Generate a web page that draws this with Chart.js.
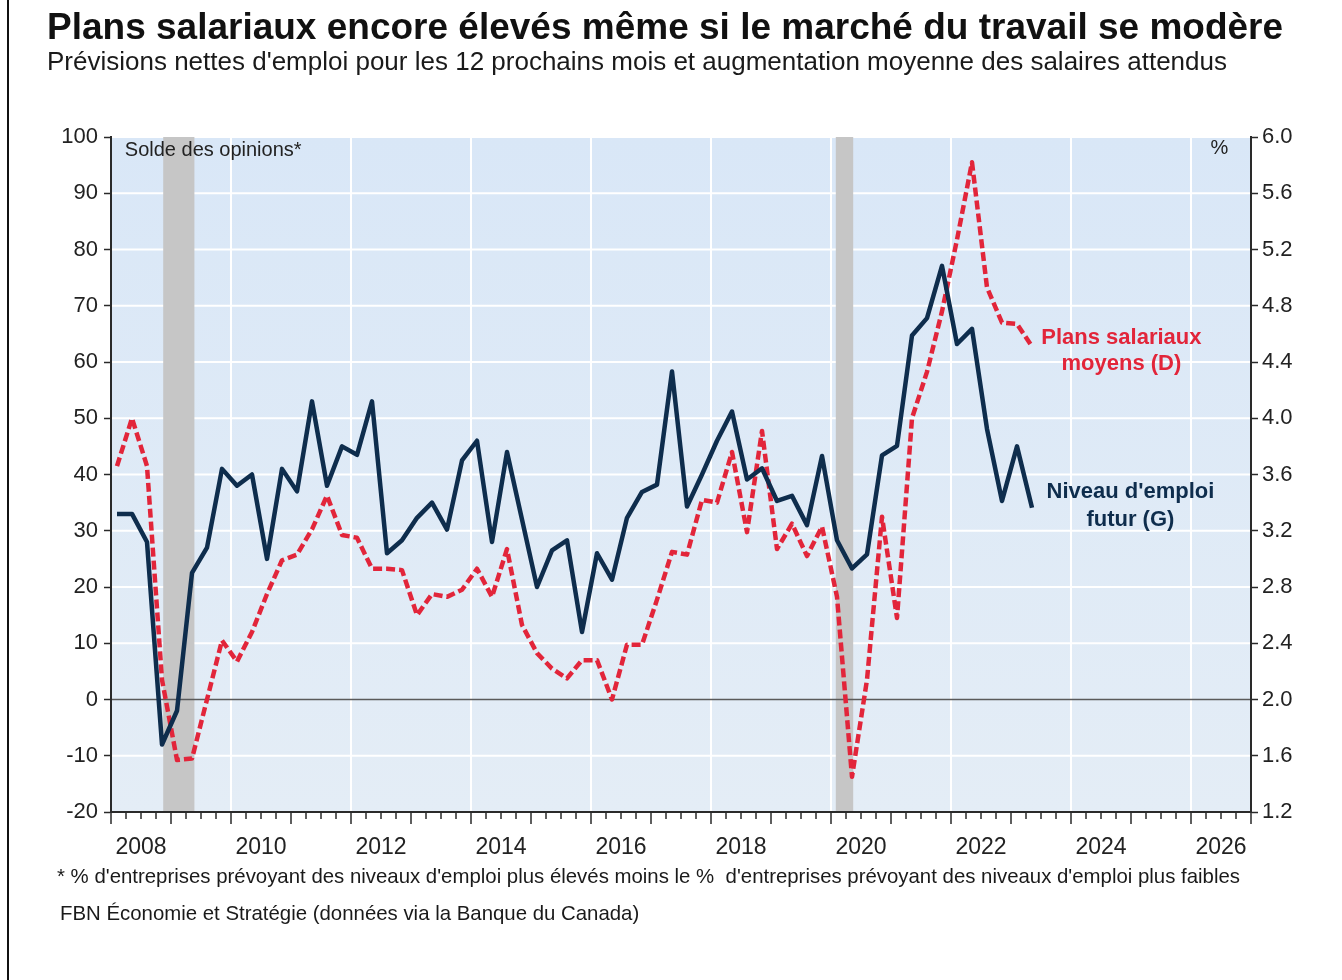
<!DOCTYPE html>
<html lang="fr">
<head>
  <meta charset="UTF-8">
  <title>Plans salariaux encore élevés</title>
  <script src="https://cdn.jsdelivr.net/npm/chart.js"></script>
  <style>
    body { margin: 0; background: #fff; font-family: "Liberation Sans", Arial, sans-serif; }
    #page { position: relative; width: 1342px; height: 980px; overflow: hidden; }
    #cadre { position: absolute; left: 7px; top: 0; width: 2px; height: 980px; background: #111; }
    .txt { position: absolute; white-space: nowrap; line-height: 1; color: #1a1a1a; }
    #titre { left: 47px; top: 8px; font-size: 37px; font-weight: bold; color: #111; }
    #sousTitre { left: 47px; top: 48px; font-size: 26px; }
    #note { left: 57px; top: 866px; font-size: 20.4px; }
    #source { left: 60px; top: 903px; font-size: 20.4px; }
    #zone { position: absolute; left: 0; top: 0; width: 1342px; height: 980px; }
  </style>
</head>
<body>
<div id="page">
  <div id="zone"><canvas id="graphique"></canvas></div>
  <div id="cadre"></div>
  <div class="txt" id="titre">Plans salariaux encore élevés même si le marché du travail se modère</div>
  <div class="txt" id="sousTitre">Prévisions nettes d'emploi pour les 12 prochains mois et augmentation moyenne des salaires attendus</div>
  <div class="txt" id="note">* % d'entreprises prévoyant des niveaux d'emploi plus élevés moins le %&nbsp; d'entreprises prévoyant des niveaux d'emploi plus faibles</div>
  <div class="txt" id="source">FBN Économie et Stratégie (données via la Banque du Canada)</div>
</div>

<script>
  // trimestres (enquête sur les perspectives des entreprises)
  const trimestres = [
    '2008T1', '2008T2', '2008T3', '2008T4', '2009T1', '2009T2', '2009T3', '2009T4',
    '2010T1', '2010T2', '2010T3', '2010T4', '2011T1', '2011T2', '2011T3', '2011T4',
    '2012T1', '2012T2', '2012T3', '2012T4', '2013T1', '2013T2', '2013T3', '2013T4',
    '2014T1', '2014T2', '2014T3', '2014T4', '2015T1', '2015T2', '2015T3', '2015T4',
    '2016T1', '2016T2', '2016T3', '2016T4', '2017T1', '2017T2', '2017T3', '2017T4',
    '2018T1', '2018T2', '2018T3', '2018T4', '2019T1', '2019T2', '2019T3', '2019T4',
    '2020T1', '2020T2', '2020T3', '2020T4', '2021T1', '2021T2', '2021T3', '2021T4',
    '2022T1', '2022T2', '2022T3', '2022T4', '2023T1', '2023T2'
  ];

  // Niveau d'emploi futur, solde des opinions (axe gauche)
  const emploi = [
    33, 33, 28, -8, -2, 22.5, 27, 41,
    38, 40, 25, 41, 37, 53, 38, 45,
    43.5, 53, 26, 28.3, 32.3, 35, 30.2, 42.5,
    46, 28, 44, 32, 20, 26.5, 28.3, 12,
    26, 21.3, 32.3, 36.9, 38.2, 58.3, 34.3, 40,
    46, 51.2, 39.1, 41.1, 35.3, 36.2, 31, 43.3,
    28.3, 23.3, 25.8, 43.4, 45.1, 64.7, 67.8, 77.1,
    63.2, 65.9, 48.1, 35.3, 45, 34.1
  ];

  // Plans salariaux moyens, % (axe droit)
  const salaires = [
    3.66, 4.0, 3.66, 2.14, 1.57, 1.58, 2.0, 2.42,
    2.27, 2.48, 2.75, 2.99, 3.03, 3.21, 3.45, 3.17,
    3.15, 2.93, 2.93, 2.92, 2.6, 2.75, 2.73, 2.78,
    2.93, 2.73, 3.07, 2.53, 2.33, 2.22, 2.15, 2.28,
    2.28, 2.0, 2.39, 2.39, 2.71, 3.05, 3.03, 3.42,
    3.4, 3.76, 3.19, 3.91, 3.07, 3.25, 3.02, 3.23,
    2.73, 1.45, 2.14, 3.3, 2.58, 4.0, 4.33, 4.76,
    5.27, 5.82, 4.93, 4.68, 4.67, 4.51
  ];

  const anneesEtiquettes = [2008, 2010, 2012, 2014, 2016, 2018, 2020, 2022, 2024, 2026];
  const recessions = [[2008.87, 2009.39], [2020.08, 2020.37]];

  const BLEU = '#0e2d4d';
  const ROUGE = '#e2253a';
  const GRIS = '#2a2a2a';

  function versAnnee(t) {
    const an = Number(t.slice(0, 4));
    const q = Number(t.slice(5));
    return an + (q - 1) * 0.25 + 0.1;
  }

  Chart.defaults.font.family = '"Liberation Sans", Arial, sans-serif';
  Chart.defaults.color = '#222';

  const fond = {
    id: 'fond',
    beforeDraw(chart) {
      const { ctx, chartArea: a, scales: { x, y } } = chart;
      ctx.save();
      const g = ctx.createLinearGradient(0, a.top, 0, a.bottom);
      g.addColorStop(0, '#d9e7f7');
      g.addColorStop(1, '#e4edf6');
      ctx.fillStyle = g;
      ctx.fillRect(a.left, a.top, a.width, a.height);

      ctx.strokeStyle = '#ffffff';
      ctx.lineWidth = 2;
      y.ticks.forEach(t => {
        if (t.value === 0 || t.value === -20) return;
        const py = y.getPixelForValue(t.value);
        ctx.beginPath(); ctx.moveTo(a.left, py); ctx.lineTo(a.right, py); ctx.stroke();
      });
      for (let an = 2010; an <= 2026; an += 2) {
        const px = x.getPixelForValue(an);
        ctx.beginPath(); ctx.moveTo(px, a.top); ctx.lineTo(px, a.bottom); ctx.stroke();
      }

      ctx.fillStyle = '#c6c6c6';
      recessions.forEach(([d, f]) => {
        const x0 = x.getPixelForValue(d);
        ctx.fillRect(x0, a.top, x.getPixelForValue(f) - x0, a.height);
      });

      const p0 = y.getPixelForValue(0);
      ctx.strokeStyle = '#5a5a5a';
      ctx.lineWidth = 1.5;
      ctx.beginPath(); ctx.moveTo(a.left, p0); ctx.lineTo(a.right, p0); ctx.stroke();
      ctx.restore();
    },
    afterDraw(chart) {
      const { ctx, chartArea: a, scales: { x, y } } = chart;
      ctx.save();
      // graduations trimestrielles
      ctx.strokeStyle = GRIS;
      ctx.lineWidth = 1.5;
      for (let k = 0; k <= 76; k++) {
        const px = x.getPixelForValue(2008 + k / 4);
        const long = k % 4 === 0 ? 12 : 7;
        ctx.beginPath(); ctx.moveTo(px, a.bottom); ctx.lineTo(px, a.bottom + long); ctx.stroke();
      }

      ctx.textBaseline = 'middle';
      ctx.font = '20px "Liberation Sans", Arial, sans-serif';
      ctx.fillStyle = '#222';
      ctx.textAlign = 'left';
      ctx.fillText('Solde des opinions*', x.getPixelForValue(2008.23), y.getPixelForValue(97.6));
      ctx.textAlign = 'right';
      ctx.fillText('%', x.getPixelForValue(2026.62), y.getPixelForValue(98));

      ctx.textAlign = 'center';
      ctx.font = 'bold 22px "Liberation Sans", Arial, sans-serif';
      ctx.fillStyle = ROUGE;
      ctx.fillText('Plans salariaux', x.getPixelForValue(2024.84), y.getPixelForValue(64.3));
      ctx.fillText('moyens (D)', x.getPixelForValue(2024.84), y.getPixelForValue(59.7));
      ctx.fillStyle = BLEU;
      ctx.fillText("Niveau d'emploi", x.getPixelForValue(2024.99), y.getPixelForValue(36.9));
      ctx.fillText('futur (G)', x.getPixelForValue(2024.99), y.getPixelForValue(31.9));
      ctx.restore();
    }
  };

  new Chart(document.getElementById('graphique'), {
    type: 'line',
    data: {
      datasets: [
        {
          label: "Niveau d'emploi futur (G)",
          data: trimestres.map((t, i) => ({ x: versAnnee(t), y: emploi[i] })),
          yAxisID: 'y',
          borderColor: BLEU,
          borderWidth: 4.5,
          borderJoinStyle: 'round',
          pointRadius: 0,
          tension: 0
        },
        {
          label: 'Plans salariaux moyens (D)',
          data: trimestres.map((t, i) => ({ x: versAnnee(t), y: salaires[i] })),
          yAxisID: 'y2',
          borderColor: ROUGE,
          borderWidth: 4.5,
          borderDash: [9, 4],
          borderJoinStyle: 'round',
          pointRadius: 0,
          tension: 0
        }
      ]
    },
    options: {
      responsive: true,
      maintainAspectRatio: false,
      animation: false,
      layout: { padding: { top: 137, left: 0, right: 0, bottom: 0 } },
      plugins: { legend: { display: false }, tooltip: { enabled: false } },
      scales: {
        x: {
          type: 'linear',
          min: 2008,
          max: 2027,
          afterBuildTicks: s => { s.ticks = anneesEtiquettes.map(a => ({ value: a + 0.5 })); },
          ticks: {
            callback: v => String(Math.floor(v)),
            padding: 14,
            maxRotation: 0,
            autoSkip: false,
            font: { size: 23 }
          },
          grid: { display: false },
          border: { display: true, color: GRIS, width: 2 },
          afterFit: s => { s.height = 980 - 812; }
        },
        y: {
          position: 'left',
          min: -20,
          max: 100,
          ticks: { stepSize: 10, padding: 6, font: { size: 22 } },
          grid: { drawOnChartArea: false, tickLength: 7, tickColor: GRIS, tickWidth: 1.5 },
          border: { color: GRIS, width: 2 },
          afterFit: s => { s.width = 111; }
        },
        y2: {
          position: 'right',
          min: 1.2,
          max: 6.0,
          ticks: { stepSize: 0.4, padding: 4, font: { size: 22 }, callback: v => Number(v).toFixed(1) },
          grid: { drawOnChartArea: false, tickLength: 7, tickColor: GRIS, tickWidth: 1.5 },
          border: { color: GRIS, width: 2 },
          afterFit: s => { s.width = 1342 - 1251; }
        }
      }
    },
    plugins: [fond]
  });
</script>
</body>
</html>
